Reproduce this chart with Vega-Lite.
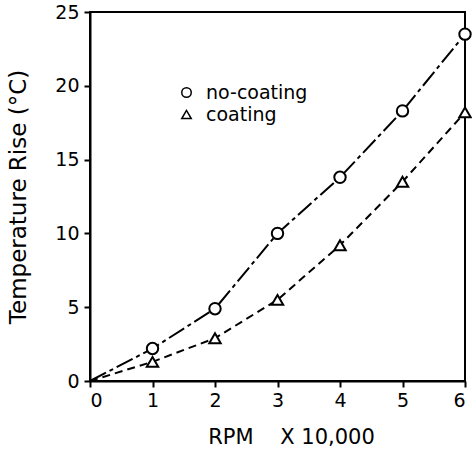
{
  "$schema": "https://vega.github.io/schema/vega-lite/v6.json",
  "width": 375,
  "height": 369,
  "autosize": {"type": "none"},
  "padding": {"left": 90, "top": 12, "right": 7, "bottom": 69},
  "background": "white",
  "config": {
    "font": "DejaVu Sans",
    "view": {"stroke": "black", "strokeWidth": 2},
    "axis": {
      "domainColor": "black", "domainWidth": 2,
      "tickColor": "black", "tickWidth": 2, "tickSize": 6,
      "labelColor": "black", "titleColor": "black",
      "labelFontSize": 19, "titleFontSize": 21, "titleFontWeight": "normal",
      "grid": false, "labelFont": "DejaVu Sans", "titleFont": "DejaVu Sans"
    }
  },
  "data": {
    "values": [
      {"rpm": 0, "rise": 0, "series": "no-coating"},
      {"rpm": 1, "rise": 2.2, "series": "no-coating"},
      {"rpm": 2, "rise": 4.9, "series": "no-coating"},
      {"rpm": 3, "rise": 10.0, "series": "no-coating"},
      {"rpm": 4, "rise": 13.8, "series": "no-coating"},
      {"rpm": 5, "rise": 18.3, "series": "no-coating"},
      {"rpm": 6, "rise": 23.5, "series": "no-coating"},
      {"rpm": 0, "rise": 0, "series": "coating"},
      {"rpm": 1, "rise": 1.3, "series": "coating"},
      {"rpm": 2, "rise": 2.9, "series": "coating"},
      {"rpm": 3, "rise": 5.5, "series": "coating"},
      {"rpm": 4, "rise": 9.2, "series": "coating"},
      {"rpm": 5, "rise": 13.5, "series": "coating"},
      {"rpm": 6, "rise": 18.2, "series": "coating"}
    ]
  },
  "encoding": {
    "x": {
      "field": "rpm", "type": "quantitative",
      "scale": {"domain": [0, 6], "nice": false},
      "axis": {"values": [0, 1, 2, 3, 4, 5, 6], "title": "RPM\u00a0\u00a0\u00a0\u00a0X 10,000", "labelPadding": 4, "titlePadding": 16, "titleX": 201}
    },
    "y": {
      "field": "rise", "type": "quantitative",
      "scale": {"domain": [0, 25], "nice": false},
      "axis": {"values": [0, 5, 10, 15, 20, 25], "title": "Temperature Rise (°C)", "labelPadding": 5, "titlePadding": 24, "titleFontSize": 23}
    }
  },
  "layer": [
    {
      "transform": [{"filter": "datum.series == 'no-coating'"}],
      "mark": {"type": "line", "stroke": "black", "strokeWidth": 2, "strokeDash": [18, 4, 4, 4]}
    },
    {
      "transform": [{"filter": "datum.series == 'coating'"}],
      "mark": {"type": "line", "stroke": "black", "strokeWidth": 2, "strokeDash": [8, 5]}
    },
    {
      "transform": [{"filter": "datum.rpm > 0"}],
      "mark": {"type": "point", "filled": true, "fill": "white", "stroke": "black", "strokeWidth": 2, "size": 130, "opacity": 1},
      "encoding": {
        "shape": {
          "field": "series", "type": "nominal",
          "scale": {"domain": ["no-coating", "coating"], "range": ["circle", "triangle-up"]},
          "legend": {
            "title": null, "orient": "none", "legendX": 87, "legendY": 71, "padding": 0,
            "labelFontSize": 19, "labelFont": "DejaVu Sans", "labelColor": "black",
            "labelOffset": 10, "rowPadding": 2,
            "symbolSize": 90,
            "encode": {
              "symbols": {
                "update": {
                  "stroke": {"value": "black"},
                  "fill": {"value": "white"},
                  "strokeWidth": {"value": 1.8},
                  "opacity": {"value": 1}
                }
              }
            }
          }
        }
      }
    }
  ]
}
